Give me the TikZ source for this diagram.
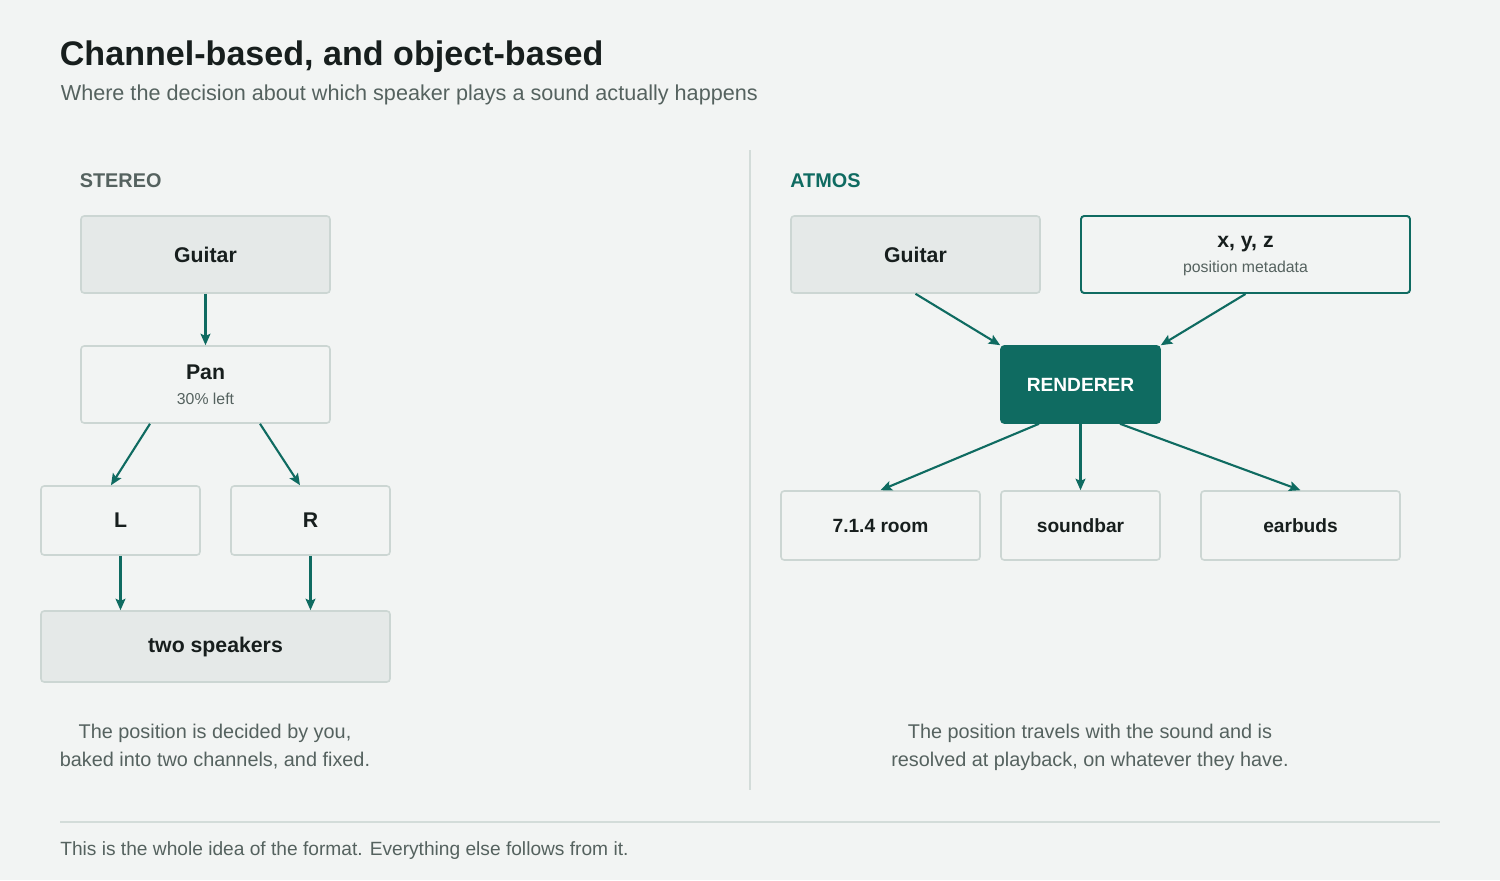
\documentclass[tikz,border=0pt]{standalone}
\usepackage{fontspec}
\setmainfont{Liberation Sans}
\usetikzlibrary{arrows.meta}

\definecolor{paper}{HTML}{F2F4F3}
\definecolor{teal}{HTML}{0F6B61}
\definecolor{edge}{HTML}{CCD6D3}
\definecolor{shade}{HTML}{E5E9E8}
\definecolor{ink}{HTML}{171E1D}
\definecolor{muted}{HTML}{55625F}
\definecolor{rule}{HTML}{D3DCD9}

\tikzset{
    box/.style={draw=edge, line width=0.9pt, fill=paper, rounded corners=1.8pt,
        text=ink, align=center, font=\fontsize{12.1}{14.5}\selectfont\bfseries},
    greybox/.style={box, fill=shade},
    small/.style={font=\fontsize{10.9}{13.6}\selectfont\bfseries},
    flow/.style={-{Stealth[length=6.5pt,width=5.6pt,inset=1.2pt]}, line width=1.2pt, teal},
    caption/.style={align=center, text=muted, font=\fontsize{11.3}{15.9}\selectfont}
}

\newcommand{\sub}[1]{\\{\fontsize{9}{14.5}\selectfont\mdseries\color{muted}#1}}

\begin{document}
\begin{tikzpicture}[x=1cm, y=-1cm]
    \useasboundingbox[fill=paper] (0,0) rectangle (30,17.6);

    % Title
    \node[anchor=base west, inner sep=0, text=ink, font=\fontsize{19.4}{22}\selectfont\bfseries]
        (title) at (1.19,1.31) {Channel-based, and object-based};
    \node[anchor=base west, inner sep=0, text=muted, font=\fontsize{12.3}{14}\selectfont]
        (subtitle) at (1.21,2.0) {Where the decision about which speaker plays a sound actually happens};

    % Divider
    \draw[rule, line width=0.6pt] (15,3) -- (15,15.8);

    % Stereo
    \node[anchor=base west, inner sep=0, text=muted, font=\fontsize{11.3}{13}\selectfont\bfseries]
        (stereo) at (1.59,3.74) {STEREO};
    \node[greybox, minimum width=4.98cm, minimum height=1.54cm] (sguitar) at (4.11,5.09) {Guitar};
    \node[box, minimum width=4.98cm, minimum height=1.54cm] (span) at (4.11,7.69)
        {\vphantom{P}Pan\sub{30\% left}};
    \node[box, minimum width=3.18cm, minimum height=1.38cm] (sleft) at (2.41,10.41) {L};
    \node[box, minimum width=3.18cm, minimum height=1.38cm] (sright) at (6.21,10.41) {R};
    \node[greybox, minimum width=6.98cm, minimum height=1.42cm] (sspk) at (4.31,12.93) {two speakers};

    \draw[flow] (sguitar.south) -- (span.north);
    \draw[flow] ([xshift=-1.11cm]span.south) -- ([xshift=-0.19cm]sleft.north);
    \draw[flow] ([xshift=1.09cm]span.south) -- ([xshift=-0.21cm]sright.north);
    \draw[flow] (sleft.south) -- (sleft.south |- sspk.north);
    \draw[flow] (sright.south) -- (sright.south |- sspk.north);

    \node[caption] (scap) at (4.3,14.94)
        {The position is decided by you,\\baked into two channels, and fixed.};

    % Atmos
    \node[anchor=base west, inner sep=0, text=teal, font=\fontsize{11.3}{13}\selectfont\bfseries]
        (atmos) at (15.8,3.74) {ATMOS};
    \node[greybox, minimum width=4.98cm, minimum height=1.54cm] (aguitar) at (18.31,5.09) {Guitar};
    \node[box, draw=teal, line width=1.1pt, minimum width=6.58cm, minimum height=1.54cm] (xyz) at (24.91,5.09)
        {\vphantom{P}x, y, z\sub{position metadata}};
    \node[box, draw=teal, fill=teal, text=white, small, minimum width=3.18cm, minimum height=1.54cm]
        (render) at (21.61,7.69) {RENDERER};
    \node[box, small, minimum width=3.98cm, minimum height=1.38cm] (room) at (17.61,10.51) {7.1.4 room};
    \node[box, small, minimum width=3.18cm, minimum height=1.38cm] (soundbar) at (21.61,10.51) {soundbar};
    \node[box, small, minimum width=3.98cm, minimum height=1.38cm] (earbuds) at (26.01,10.51) {earbuds};

    \draw[flow] (aguitar.south) -- (render.north west);
    \draw[flow] (xyz.south) -- (render.north east);
    \draw[flow] ([xshift=-0.83cm]render.south) -- (room.north);
    \draw[flow] (render.south) -- (soundbar.north);
    \draw[flow] ([xshift=0.79cm]render.south) -- (earbuds.north);

    \node[caption] (acap) at (21.8,14.94)
        {The position travels with the sound and is\\resolved at playback, on whatever they have.};

    % Footer
    \draw[rule, line width=0.6pt] (1.2,16.44) -- (28.8,16.44);
    \node[anchor=base west, inner sep=0, text=muted, font=\fontsize{10.9}{13}\selectfont]
        (footer) at (1.2,17.1) {This is the whole idea of the format. Everything else follows from it.};
\end{tikzpicture}
\end{document}
